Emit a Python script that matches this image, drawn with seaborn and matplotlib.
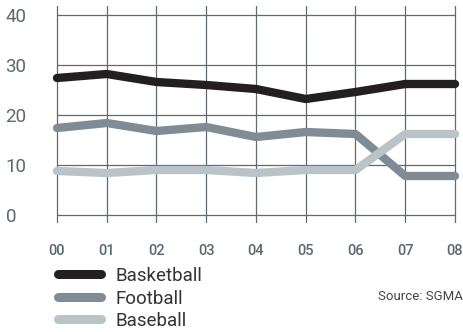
import matplotlib
matplotlib.use('Agg')
import numpy as np
import pandas as pd
import matplotlib.pyplot as plt
import seaborn as sns
from matplotlib.lines import Line2D

years = ['00', '01', '02', '03', '04', '05', '06', '07', '08']
basketball = [27.4, 28.2, 26.6, 26.0, 25.2, 23.2, 24.6, 26.2, 26.2]
football = [17.4, 18.4, 16.8, 17.6, 15.6, 16.6, 16.2, 7.8, 7.8]
baseball = [8.8, 8.4, 9.0, 9.0, 8.4, 9.0, 9.0, 16.2, 16.2]
sports = ['Basketball', 'Football', 'Baseball']
colors = ['#231f20', '#7f8c96', '#b9c3c8']

df = pd.DataFrame({'year': years, 'Basketball': basketball,
                   'Football': football, 'Baseball': baseball})
df['x'] = np.arange(len(years))
long = df.melt(id_vars=['year', 'x'], value_vars=sports,
               var_name='sport', value_name='value')

sns.set_style('white')
plt.rcParams['font.family'] = ['Roboto', 'DejaVu Sans']

fig = plt.figure(figsize=(4.64, 3.32), dpi=100)
# axes in pixel coords: x 57..455, y 6..222 (top..bottom)
ax = fig.add_axes([57 / 464, (332 - 222) / 332, (455 - 57) / 464, (222 - 6) / 332])

sns.lineplot(data=long, x='x', y='value', hue='sport', hue_order=sports,
             palette=colors, linewidth=6, ax=ax, legend=False,
             solid_capstyle='round', solid_joinstyle='round', clip_on=False,
             zorder=3)

ax.set_xlim(0, 8)
ax.set_ylim(-1.4, 41.8)
ax.set_xticks(df['x'])
ax.set_xticklabels(years)
ax.set_yticks([0, 10, 20, 30, 40])
ax.set_xlabel('')
ax.set_ylabel('')
for s in ax.spines.values():
    s.set_visible(False)

grid_c = '#5d6a74'
for v in [0, 10, 20, 30, 40]:
    ax.axhline(v, color=grid_c, lw=0.9, zorder=1)
for v in df['x']:
    ax.axvline(v, color=grid_c, lw=0.9, zorder=1, clip_on=False)

ax.tick_params(axis='y', length=0, pad=37, labelsize=13.5, labelcolor='#5b6770')
ax.tick_params(axis='x', length=0, pad=16, labelsize=10.5, labelcolor='#5b6770')
for lbl in ax.get_yticklabels():
    lbl.set_horizontalalignment('left')
for lbl in ax.get_xticklabels():
    lbl.set_fontweight('medium')

handles = [Line2D([], [], color=c, lw=6.5, solid_capstyle='round') for c in colors]
leg = fig.legend(handles, sports, loc='upper left', bbox_to_anchor=(58 / 464, 1 - 267 / 332),
                 frameon=False, fontsize=13.5, handlelength=2.3, handletextpad=0.75,
                 labelspacing=0.24, borderpad=0, borderaxespad=0)
for t in leg.get_texts():
    t.set_color('#333333')

fig.text(463 / 464, 1 - 297 / 332, 'Source: SGMA', ha='right', va='center',
         fontsize=9.5, color='#444444')

fig.savefig('out.png', dpi=100)
